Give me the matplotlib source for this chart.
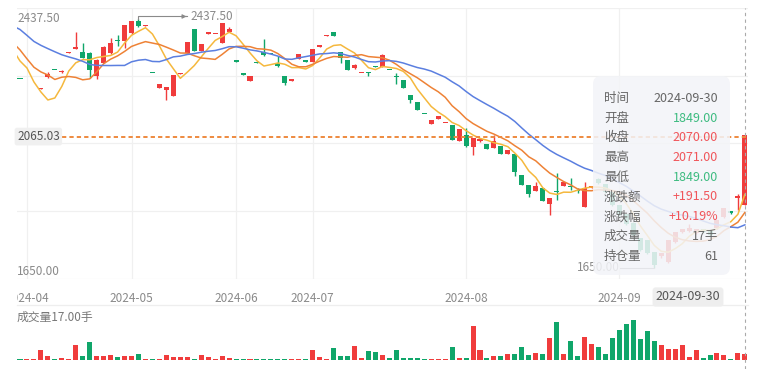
import numpy as np
import pandas as pd
import matplotlib
matplotlib.use("Agg")
import matplotlib.pyplot as plt
from matplotlib.patches import FancyBboxPatch
from matplotlib.lines import Line2D
from matplotlib.transforms import IdentityTransform, blended_transform_factory

plt.rcParams["font.family"] = ["Noto Sans CJK SC", "DejaVu Sans"]

# ---- data (daily candles, 2024-03-29 .. 2024-09-30) ----
opens = np.array([
    2248.5, 2088, 2088.5, 2214, 2253, 2280, 2267.5, 2329, 2343, 2332,
    2329, 2258, 2299, 2329, 2370, 2368.5, 2392, 2430, 2414.5, 2270.5,
    2217, 2212, 2193, 2263, 2329, 2405, 2335.5, 2390.5, 2391, 2361,
    2395.5, 2305.5, 2264.5, 2242, 2302, 2332, 2327.5, 2299, 2256.5, 2242,
    2311.5, 2305.5, 2300.5, 2349.5, 2381.5, 2395.5, 2332, 2308.5, 2281.5, 2267.5,
    2267.5, 2286.5, 2285, 2280, 2258, 2244, 2196.5, 2174.5, 2141, 2105,
    2119, 2106.5, 2103, 2052.5, 2070, 2033.5, 2052.5, 2043, 2027.5, 2035,
    2010, 2011.5, 1943.5, 1912, 1891.5, 1902.5, 1852, 1893, 1907.5, 1909,
    1896, 1844, 1904, 1931, 1915, 1890, 1849, 1820.5, 1792, 1744.5,
    1738, 1700.5, 1687.5, 1668.5, 1732, 1763.5, 1766.5, 1760.5, 1773, 1770,
    1776, 1811, 1830, 1871, 1849])
closes = np.array([
    2245.5, 2089, 2089, 2217, 2263, 2277, 2272, 2332, 2346.5, 2313,
    2275, 2307, 2349.5, 2361, 2367, 2417.5, 2430, 2413, 2417.5, 2267.5,
    2231, 2221.5, 2259.5, 2266, 2364, 2335.5, 2357.5, 2394, 2393, 2424,
    2405, 2302, 2261, 2255, 2299, 2323, 2324.5, 2286.5, 2234.5, 2245.5,
    2324.5, 2302, 2342, 2353, 2386, 2381.5, 2313, 2274, 2291, 2270.5,
    2264.5, 2283.5, 2323, 2277, 2253, 2218.5, 2180.5, 2147.5, 2138, 2116,
    2130, 2109.5, 2054, 2090.5, 2035, 2060.5, 2056, 2026, 2051, 2010,
    2022.5, 1954.5, 1912, 1883.5, 1907.5, 1860, 1869.5, 1890, 1920, 1905.5,
    1893, 1901, 1909, 1918.5, 1890, 1849, 1817, 1789, 1754, 1706.5,
    1697, 1659, 1697, 1738, 1763.5, 1773, 1776, 1773, 1763.5, 1754,
    1801.5, 1839, 1823.5, 1878.5, 2070])
highs = np.array([
    2248.5, 2089, 2089, 2217, 2267.5, 2280, 2274, 2332, 2395.5, 2361,
    2332, 2310, 2351, 2378, 2386, 2419, 2431.5, 2437.5, 2417.5, 2270.5,
    2231, 2223, 2259.5, 2266, 2364, 2405, 2357.5, 2394, 2393, 2424,
    2411, 2305.5, 2264.5, 2255, 2302, 2372, 2327.5, 2321, 2258, 2245.5,
    2324.5, 2305.5, 2342, 2353, 2386, 2395.5, 2332, 2308.5, 2294.5, 2270.5,
    2267.5, 2286.5, 2326, 2280, 2264.5, 2244, 2196.5, 2174.5, 2141, 2116,
    2130, 2109.5, 2103, 2090.5, 2093.5, 2060.5, 2060.5, 2043, 2070, 2035,
    2022.5, 2011.5, 1943.5, 1912, 1923, 1902.5, 1869.5, 1950, 1920, 1934,
    1902.5, 1923, 1910, 1935, 1915, 1890, 1849, 1820.5, 1795, 1744.5,
    1738, 1700.5, 1697, 1738, 1763.5, 1773, 1789, 1773, 1773, 1770,
    1801.5, 1839, 1830, 1884, 2071])
lows = np.array([
    2245.5, 2088, 2088.5, 2214, 2250, 2277, 2266, 2329, 2343, 2312,
    2250, 2247, 2297.5, 2327.5, 2351, 2345, 2390.5, 2411, 2414.5, 2267.5,
    2217, 2182, 2193, 2263, 2329, 2335.5, 2335.5, 2390.5, 2391, 2361,
    2394, 2302, 2261, 2242, 2299, 2321, 2324.5, 2285, 2229.5, 2242,
    2311.5, 2302, 2300.5, 2349.5, 2381.5, 2381.5, 2297.5, 2274, 2278.5, 2267.5,
    2256.5, 2283.5, 2285, 2277, 2232.5, 2218.5, 2171, 2147.5, 2138, 2105,
    2119, 2106.5, 2054, 2052.5, 2033.5, 2007, 2048, 2026, 2027.5, 2010,
    2010, 1939, 1912, 1875.5, 1891.5, 1860, 1817, 1864.5, 1907.5, 1896,
    1886.5, 1844, 1903, 1915, 1888, 1846, 1815, 1786, 1750, 1703,
    1693, 1650, 1681, 1665, 1730, 1760, 1764, 1758, 1760, 1750,
    1774, 1808, 1821, 1833, 1849])
volumes = np.array([
    1, 1, 1, 30, 11, 3, 6, 3, 46, 11,
    57, 11, 11, 16, 9, 11, 11, 19, 1, 1,
    3, 14, 9, 9, 9, 3, 13, 9, 1, 11,
    6, 3, 1, 3, 3, 3, 3, 3, 3, 1,
    3, 2, 32, 9, 3, 37, 11, 11, 43, 6,
    27, 25, 13, 5, 30, 5, 5, 5, 1, 1,
    1, 1, 40, 4, 4, 108, 32, 4, 12, 12,
    17, 19, 40, 16, 22, 19, 70, 119, 19, 59,
    11, 73, 49, 40, 19, 70, 96, 113, 126, 66,
    91, 60, 48, 33, 33, 48, 9, 32, 6, 14,
    21, 13, 3, 22, 17])
# closes before the window, only used to seed the moving averages
prior_closes = [2468, 2460, 2472, 2465, 2470, 2475, 2462, 2468, 2471, 2466, 2470,
                2370, 2355, 2365, 2360, 2419, 2200, 2310, 2375, 2389]
month_labels = ["2024-04", "2024-05", "2024-06", "2024-07", "2024-08", "2024-09"]
month_start = [1, 16, 31, 42, 64, 86]
last_date = "2024-09-30"
ref_price = 2065.03
open_interest = 61

RED = "#f03c3c"
GREEN = "#10a66a"
W, H = 775, 369


def fx(px):
    return px / W


def fy(py):
    return 1 - py / H


fig = plt.figure(figsize=(W / 100, H / 100), dpi=100)
ax = fig.add_axes([fx(17), fy(279), fx(748) - fx(17), fy(8) - fy(279)])
vax = fig.add_axes([fx(17), fy(359.5), fx(748) - fx(17), fy(318) - fy(359.5)])

n = len(closes)
idx = np.arange(n)
colors = np.where(closes >= opens, RED, GREEN)

y_lo, y_hi = 1615, 2471.3
ax.set_xlim(-0.43, n - 0.55)
ax.set_ylim(y_lo, y_hi)
for s in ax.spines.values():
    s.set_visible(False)
ax.set_yticks(np.linspace(y_lo, y_hi, 5))
ax.set_yticklabels([])
ax.set_xticks(month_start, month_labels)
ax.tick_params(length=0, pad=9, labelsize=8.5, labelcolor="#8a8a8a")
ax.grid(True, color="#f0f0f0", lw=0.9)
ax.set_axisbelow(True)

# candles
ax.vlines(idx, lows, highs, colors=colors, lw=1, zorder=2)
mid = (opens + closes) / 2
body_h = np.maximum(np.abs(closes - opens), 3.2)
ax.bar(idx, body_h, bottom=mid - body_h / 2, width=0.72, color=colors, lw=0, zorder=3)

# moving averages
allc = pd.Series(np.concatenate([prior_closes, closes]))
xs = np.arange(-len(prior_closes), n)
for win, col in [(5, "#f5b83d"), (10, "#ee8236"), (20, "#5b7fe0")]:
    ma = allc.rolling(win).mean().values
    keep = xs >= -1
    ax.plot(xs[keep], ma[keep], color=col, lw=1.1, zorder=4)

# reference price line and label
ax.axhline(ref_price, xmin=0.062, color="#ee8a3f", lw=1.4, dashes=(2.2, 1.6), zorder=5)
tr = blended_transform_factory(ax.transAxes, ax.transData)
ax.text(0.0, ref_price, f"{ref_price:.2f}", transform=tr, ha="left", va="center",
        fontsize=8.5, color="#555555", zorder=6,
        bbox=dict(boxstyle="round,pad=0.2", fc="#f0f0f0", ec="none"))

# axis max / min labels
ax.text(0.0, 0.963, f"{highs.max():.2f}", transform=ax.transAxes, ha="left", va="center",
        fontsize=8.5, color="#8a8a8a")
ax.text(0.0, 0.026, f"{lows.min():.2f}", transform=ax.transAxes, ha="left", va="center",
        fontsize=8.5, color="#8a8a8a")

# max / min markers
imax, imin = int(np.argmax(highs)), int(np.argmin(lows))
hy = highs[imax] + 7
ax.plot([imax, imax, imax + 6.9], [highs[imax], hy, hy], color="#8a8a8a", lw=0.8, zorder=5)
ax.annotate("", xy=(imax + 7.3, hy), xytext=(imax + 6.5, hy),
            arrowprops=dict(arrowstyle="-|>", color="#8a8a8a", lw=0.8, mutation_scale=6))
ax.text(imax + 7.4, hy, f"{highs[imax]:.2f}", ha="left", va="center", fontsize=8.5,
        color="#8a8a8a", clip_on=False)
ax.plot([imin - 4.9, imin], [lows[imin], lows[imin]], color="#8a8a8a", lw=0.8, zorder=5)
ax.text(imin - 5.0, lows[imin], f"{lows[imin]:.2f}", ha="right", va="center",
        fontsize=8.5, color="#8a8a8a")

# volume
vax.bar(idx, volumes, width=0.72, color=colors, lw=0)
vax.set_xlim(ax.get_xlim())
vax.set_ylim(0, 132.8)
vax.axis("off")
fig.text(fx(17), fy(317), f"成交量{volumes[-1]:.2f}手", ha="left", va="center",
         fontsize=8.5, color="#777777")
fig.add_artist(Line2D([fx(17), fx(748)], [fy(305), fy(305)], color="#eeeeee", lw=0.9))

# hide overflow of first month label
fig.add_artist(plt.Rectangle((0, fy(305)), fx(16.5), fy(283) - fy(305),
                             transform=fig.transFigure, fc="white", ec="none", zorder=20))

# crosshair on last candle
xd = ax.transData.transform((n - 1, y_lo))[0]
fig.add_artist(Line2D([xd / W, xd / W], [0, fy(8)], color="#aaaaaa", lw=0.8,
                      dashes=(3, 3), zorder=8))
fig.text(fx(688), fy(297), last_date, ha="center", va="center", fontsize=9,
         color="#555555", zorder=9,
         bbox=dict(boxstyle="round,pad=0.25", fc="#eeeeee", ec="none"))

# tooltip
box = FancyBboxPatch((593, H - 275), 137, 199, boxstyle="round,pad=0,rounding_size=8",
                     transform=IdentityTransform(), fc="#f3f4f8", ec="none",
                     alpha=0.86, zorder=10)
fig.add_artist(box)
chg = closes[-1] - closes[-2]
pct = chg / closes[-2] * 100
TRED, TGREEN, TGRAY = "#f0555a", "#3dbb80", "#666666"
rows = [
    ("时间", last_date, TGRAY),
    ("开盘", f"{opens[-1]:.2f}", TRED if opens[-1] >= closes[-2] else TGREEN),
    ("收盘", f"{closes[-1]:.2f}", TRED if closes[-1] >= closes[-2] else TGREEN),
    ("最高", f"{highs[-1]:.2f}", TRED if highs[-1] >= closes[-2] else TGREEN),
    ("最低", f"{lows[-1]:.2f}", TRED if lows[-1] >= closes[-2] else TGREEN),
    ("涨跌额", f"{chg:+.2f}", TRED if chg >= 0 else TGREEN),
    ("涨跌幅", f"{pct:+.2f}%", TRED if chg >= 0 else TGREEN),
    ("成交量", f"{volumes[-1]}手", TGRAY),
    ("持仓量", f"{open_interest}", TGRAY),
]
for k, (lab, val, col) in enumerate(rows):
    y = 98.5 + k * 19.7
    fig.text(fx(604), fy(y), lab, ha="left", va="center", fontsize=9, color=TGRAY, zorder=11)
    fig.text(fx(718), fy(y), val, ha="right", va="center", fontsize=9, color=col, zorder=11)

fig.savefig("out.png", dpi=100)
